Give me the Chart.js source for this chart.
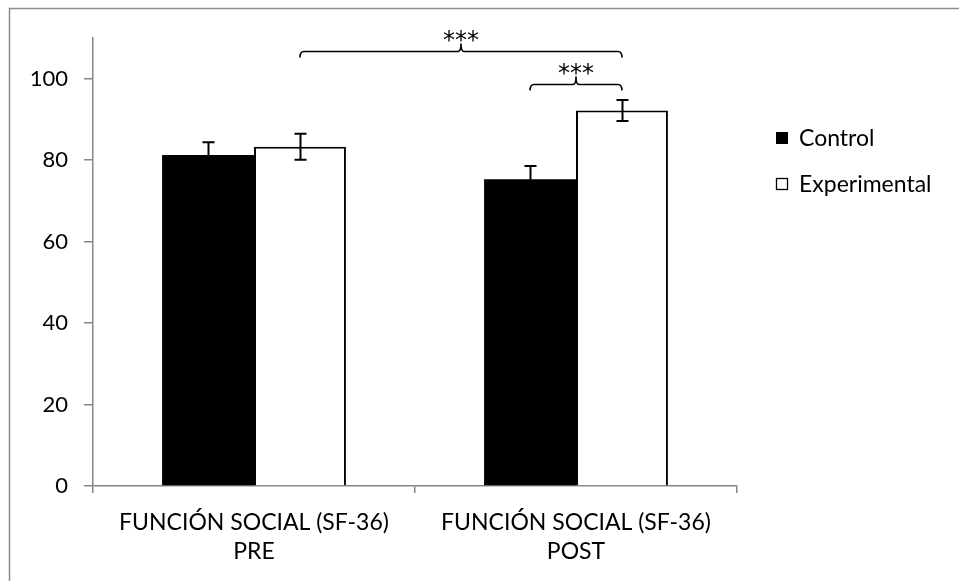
<!DOCTYPE html>
<html>
<head>
<meta charset="utf-8">
<script src="https://cdn.jsdelivr.net/npm/chart.js@4.4.1/dist/chart.umd.min.js"></script>
<style>
  html, body { margin: 0; padding: 0; background: #ffffff; }
  #wrap { position: relative; width: 959px; height: 581px; }
</style>
</head>
<body>
<div id="wrap"><canvas id="c" width="959" height="581"></canvas></div>
<script>
// ---- data ----
const categories = [["FUNCIÓN SOCIAL (SF-36)", "PRE"], ["FUNCIÓN SOCIAL (SF-36)", "POST"]];
const seriesNames = ["Control", "Experimental"];
const controlValues = [81.3, 75.3];
const experimentalValues = [83.3, 92.2];
const controlErrors = [3.1, 3.3];
const experimentalErrors = [3.2, 2.6];
const yTickValues = [0, 20, 40, 60, 80, 100];
const significanceLabels = ["***", "***"];
// comparisons between bars: dataset/category of each end and bracket level
const comparisonsA = [1, 0];
const comparisonsB = [1, 1];
const comparisonCatsA = [0, 1];
const comparisonCatsB = [1, 1];
const comparisonLevels = [106.7, 98.8];

const FONT = "Lato, 'Open Sans', sans-serif";
const AXIS_GRAY = "#868686";

const errorBarsPlugin = {
  id: "errorBars",
  afterDatasetsDraw(chart) {
    const ctx = chart.ctx;
    const y = chart.scales.y;
    const errs = [controlErrors, experimentalErrors];
    const vals = [controlValues, experimentalValues];
    ctx.save();
    ctx.strokeStyle = "#000";
    ctx.lineWidth = 2;
    for (let d = 0; d < 2; d++) {
      const meta = chart.getDatasetMeta(d);
      meta.data.forEach((bar, i) => {
        const x = Math.round(bar.x) + 0.5;
        const top = y.getPixelForValue(vals[d][i] + errs[d][i]);
        const bot = y.getPixelForValue(vals[d][i] - errs[d][i]);
        ctx.beginPath();
        ctx.moveTo(x, top); ctx.lineTo(x, bot);
        ctx.moveTo(x - 6, top); ctx.lineTo(x + 6, top);
        ctx.moveTo(x - 6, bot); ctx.lineTo(x + 6, bot);
        ctx.stroke();
      });
    }
    ctx.restore();
  }
};

const annotationsPlugin = {
  id: "annotations",
  afterDraw(chart) {
    const ctx = chart.ctx;
    const y = chart.scales.y;
    ctx.save();
    // outer frame (top + left)
    ctx.strokeStyle = "#8c8c8c";
    ctx.lineWidth = 1.5;
    ctx.beginPath();
    ctx.moveTo(9.5, 581); ctx.lineTo(9.5, 8.5); ctx.lineTo(959, 8.5);
    ctx.stroke();

    // significance brackets
    ctx.strokeStyle = "#000";
    ctx.lineWidth = 1.6;
    ctx.fillStyle = "#000";
    ctx.font = "24px 'DejaVu Sans', sans-serif";
    ctx.textAlign = "center";
    ctx.textBaseline = "alphabetic";
    for (let k = 0; k < comparisonLevels.length; k++) {
      const xa = chart.getDatasetMeta(comparisonsA[k]).data[comparisonCatsA[k]].x;
      const xb = chart.getDatasetMeta(comparisonsB[k]).data[comparisonCatsB[k]].x;
      const yy = Math.round(y.getPixelForValue(comparisonLevels[k])) + 0.5;
      const xm = (xa + xb) / 2;
      ctx.beginPath();
      ctx.moveTo(xa, yy + 6);
      ctx.quadraticCurveTo(xa, yy, xa + 4, yy);
      ctx.lineTo(xm - 3, yy);
      ctx.quadraticCurveTo(xm, yy, xm, yy - 8);
      ctx.quadraticCurveTo(xm, yy, xm + 3, yy);
      ctx.lineTo(xb - 4, yy);
      ctx.quadraticCurveTo(xb, yy, xb, yy + 6);
      ctx.stroke();
      ctx.fillText(significanceLabels[k], xm, yy - 3.5);
    }

    // legend
    const lx = 776, ly = [138, 184];
    ctx.textAlign = "left";
    ctx.textBaseline = "middle";
    ctx.font = "23px " + FONT;
    for (let s = 0; s < 2; s++) {
      if (s === 0) {
        ctx.fillStyle = "#000";
        ctx.fillRect(lx, ly[s] - 6, 12, 12);
      } else {
        ctx.strokeStyle = "#000";
        ctx.lineWidth = 1.3;
        ctx.strokeRect(lx + 0.5, ly[s] - 5.5, 11, 11);
      }
      ctx.fillStyle = "#000";
      ctx.fillText(seriesNames[s], lx + 23, ly[s] + 1);
    }
    ctx.restore();
  }
};

new Chart(document.getElementById("c"), {
  type: "bar",
  data: {
    labels: categories,
    datasets: [
      {
        label: seriesNames[0],
        data: controlValues,
        backgroundColor: "#000000",
        borderColor: "#000000",
        borderWidth: 0,
        categoryPercentage: 0.571,
        barPercentage: 1.0
      },
      {
        label: seriesNames[1],
        data: experimentalValues,
        backgroundColor: "#ffffff",
        borderColor: "#000000",
        borderWidth: 2,
        categoryPercentage: 0.571,
        barPercentage: 1.0
      }
    ]
  },
  options: {
    responsive: false,
    animation: false,
    events: [],
    layout: { padding: { left: 0, top: 38, right: 222, bottom: 0 } },
    plugins: { legend: { display: false }, tooltip: { enabled: false } },
    scales: {
      x: {
        grid: { display: true, drawOnChartArea: false, drawTicks: true, tickLength: 7, color: AXIS_GRAY, lineWidth: 1.5, offset: true },
        border: { display: true, color: AXIS_GRAY, width: 1.5 },
        ticks: { color: "#000", font: { family: FONT, size: 23, lineHeight: 1.25 }, padding: 15, maxRotation: 0, autoSkip: false },
        afterFit: (s) => { s.height = 95; }
      },
      y: {
        min: 0,
        max: 110,
        grid: { display: true, drawOnChartArea: false, drawTicks: true, tickLength: 9, color: AXIS_GRAY, lineWidth: 1.5 },
        border: { display: true, color: AXIS_GRAY, width: 1.5 },
        ticks: { color: "#000", font: { family: FONT, size: 22 }, padding: 16, stepSize: 20 },
        afterBuildTicks: (s) => { s.ticks = yTickValues.map(v => ({ value: v })); },
        afterFit: (s) => { s.width = 93; }
      }
    }
  },
  plugins: [errorBarsPlugin, annotationsPlugin]
});
</script>
</body>
</html>
